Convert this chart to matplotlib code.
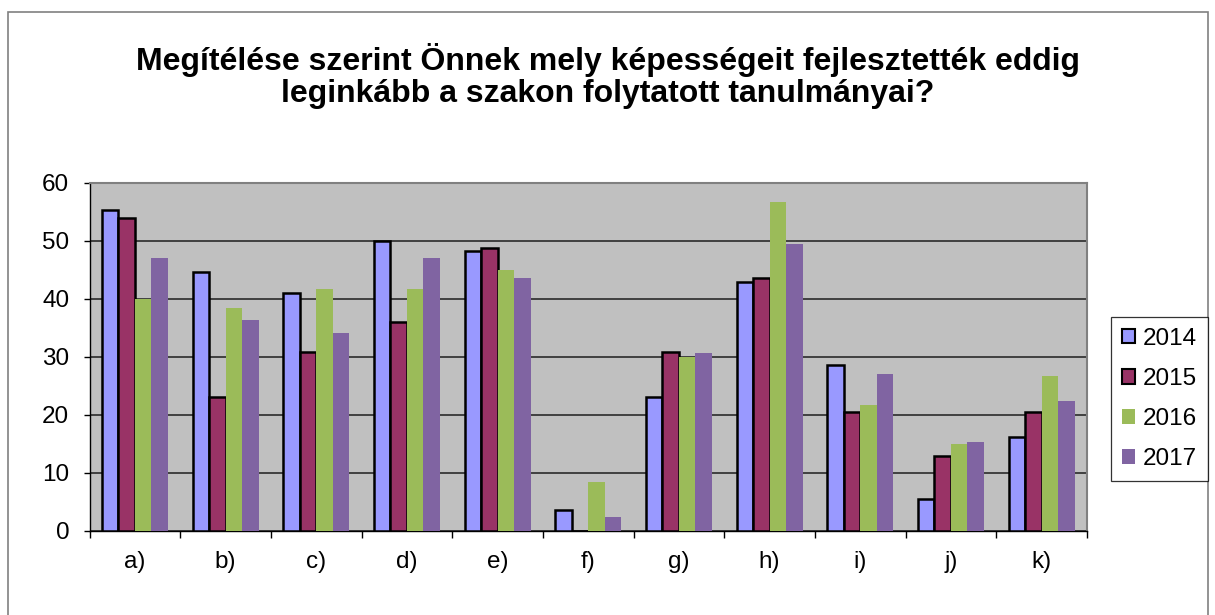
import numpy as np
import matplotlib.pyplot as plt
from matplotlib.patches import Rectangle, Patch

categories = ['a)', 'b)', 'c)', 'd)', 'e)', 'f)', 'g)', 'h)', 'i)', 'j)', 'k)']
years = ['2014', '2015', '2016', '2017']
v2014 = [55.3, 44.6, 41.0, 50.0, 48.2, 3.5, 23.1, 42.8, 28.5, 5.4, 16.1]
v2015 = [53.9, 23.1, 30.8, 35.9, 48.7, 0.0, 30.8, 43.6, 20.5, 12.8, 20.5]
v2016 = [39.9, 38.3, 41.6, 41.6, 44.9, 8.3, 30.0, 56.7, 21.6, 15.0, 26.6]
v2017 = [47.0, 36.4, 34.0, 47.0, 43.5, 2.3, 30.6, 49.4, 27.0, 15.2, 22.3]
title = 'Megítélése szerint Önnek mely képességeit fejlesztették eddig\nleginkább a szakon folytatott tanulmányai?'

colors = ['#9999FF', '#993366', '#9BBB59', '#8064A2']
edged = [True, True, False, False]  # only the first two series have outlines

plt.rcParams['font.family'] = ['Liberation Sans', 'DejaVu Sans']

W, H = 1215, 615
fig = plt.figure(figsize=(W / 100, H / 100), dpi=100)

# outer chart frame
fig.patches.append(Rectangle((8 / W, -0.01), 1200 / W, (H - 12) / H + 0.01,
                             transform=fig.transFigure, fill=False,
                             edgecolor='#808080', linewidth=1.2))

x0, x1, ytop, ybot = 89.5, 1087, 182.7, 530.5
ax = fig.add_axes([x0 / W, (H - ybot) / H, (x1 - x0) / W, (ybot - ytop) / H])
ax.set_facecolor('#C0C0C0')

x = np.arange(len(categories))
w = 0.182
for j, vals in enumerate([v2014, v2015, v2016, v2017]):
    pos = x + (j - 1.5) * w
    if edged[j]:
        ax.bar(pos, vals, w, color=colors[j], edgecolor='black', linewidth=1.8, zorder=3)
    else:
        ax.bar(pos, vals, w, color=colors[j], linewidth=0, zorder=3)

ax.set_xlim(-0.5, len(categories) - 0.5)
ax.set_ylim(0, 60)
ax.set_yticks(range(0, 61, 10))
ax.yaxis.grid(True, color='#404040', linewidth=1.4, zorder=1)
ax.set_axisbelow(True)

# ticks between categories, labels at centres
ax.set_xticks(np.arange(-0.5, len(categories)), labels=[])
ax.set_xticks(x, labels=categories, minor=True)
ax.tick_params(axis='x', which='major', direction='out', length=5, width=1, color='black')
ax.tick_params(axis='x', which='minor', length=0, pad=15, labelsize=17.5)
ax.tick_params(axis='y', direction='out', length=4.5, width=1, labelsize=17.5, pad=10)

for s in ['top', 'right']:
    ax.spines[s].set_color('#808080')
    ax.spines[s].set_linewidth(1.5)
for s in ['left', 'bottom']:
    ax.spines[s].set_color('black')
    ax.spines[s].set_linewidth(1.0)

fig.text(0.5, 1 - 76 / H, title, ha='center', va='center',
         fontsize=23, fontweight='bold', linespacing=1.1)

handles = [Patch(facecolor=c, edgecolor='black' if e else c, linewidth=1.5 if e else 0)
           for c, e in zip(colors, edged)]
leg = fig.legend(handles, years, loc='center left',
                 bbox_to_anchor=(1111 / W, 1 - 399 / H),
                 fontsize=17.5, frameon=True, fancybox=False,
                 handlelength=0.55, handleheight=0.55, handletextpad=0.3,
                 labelspacing=0.75, borderpad=0.45, borderaxespad=0)
leg.get_frame().set_edgecolor('black')
leg.get_frame().set_linewidth(0.9)

fig.savefig('out.png', dpi=100)
